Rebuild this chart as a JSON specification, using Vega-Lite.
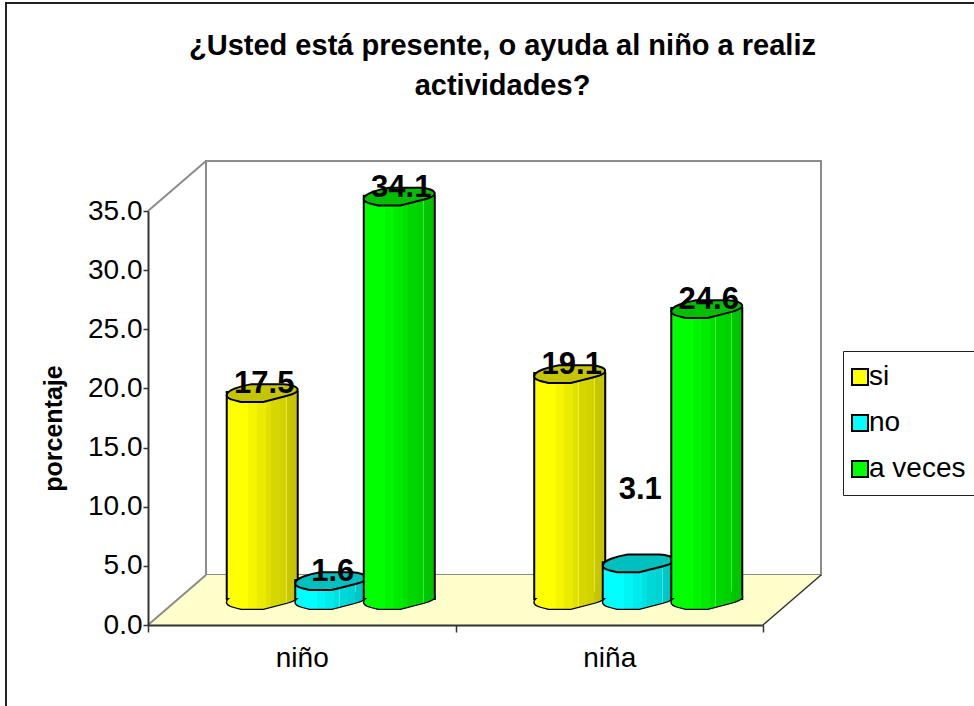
{
  "$schema": "https://vega.github.io/schema/vega-lite/v6.json",
  "autosize": {"type": "none"},
  "width": 615,
  "height": 414,
  "padding": {"left": 148, "top": 211, "right": 211, "bottom": 81},
  "background": "white",
  "view": {"stroke": null},
  "config": {"font": "Liberation Sans", "view": {"stroke": null}},
  "title": {
    "text": ["¿Usted está presente, o ayuda al niño a realiz", "actividades?"],
    "font": "Liberation Sans", "fontSize": 29, "fontWeight": "bold", "color": "black",
    "anchor": "middle", "frame": "group", "dx": 47, "offset": -99, "lineHeight": 40
  },
  "datasets": {
    "respuestas": [
      {"sexo": "niño", "respuesta": "si", "valor": 17.5},
      {"sexo": "niño", "respuesta": "no", "valor": 1.6},
      {"sexo": "niño", "respuesta": "a veces", "valor": 34.1},
      {"sexo": "niña", "respuesta": "si", "valor": 19.1},
      {"sexo": "niña", "respuesta": "no", "valor": 3.1},
      {"sexo": "niña", "respuesta": "a veces", "valor": 24.6}
    ],
    "suelo": [
      {"x": 0, "y": 0, "y2": 0},
      {"x": 0.1886, "y": 0, "y2": 4.23},
      {"x": 2, "y": 0, "y2": 4.23},
      {"x": 2.1886, "y": 4.23, "y2": 4.23}
    ],
    "aristas": [
      {"arista": "arriba", "x": 0, "y": 35},
      {"arista": "arriba", "x": 0.1886, "y": 39.23},
      {"arista": "abajo", "x": 0, "y": 0},
      {"arista": "abajo", "x": 0.1886, "y": 4.23}
    ],
    "paneles": [
      {"panel": "marco", "x": -0.4618, "x2": 3, "y": 52.58, "y2": -20},
      {"panel": "fondo", "x": 0.1886, "x2": 2.1886, "y": 39.23, "y2": 4.23}
    ],
    "borde": [
      {"x": 2, "y": 0},
      {"x": 2.1886, "y": 4.23}
    ]
  },
  "layer": [
    {
      "layer": [
        {
          "data": {"name": "paneles"},
          "transform": [{"filter": "datum.panel === 'marco'"}],
          "mark": {"type": "rect", "fill": "white", "stroke": "#222222", "strokeWidth": 2, "clip": false},
          "encoding": {
            "x": {"field": "x", "type": "quantitative", "scale": {"domain": [0, 2], "nice": false, "zero": false}, "axis": null},
            "x2": {"field": "x2"},
            "y": {
              "field": "y", "type": "quantitative",
              "scale": {"domain": [0, 35], "nice": false},
              "axis": {
                "values": [0, 5, 10, 15, 20, 25, 30, 35], "format": ".1f", "grid": false,
                "title": "porcentaje", "titleFont": "Liberation Sans", "titleFontSize": 25, "titleFontWeight": "bold",
                "titleColor": "black", "titleX": -95, "titleY": 217, "titleAlign": "center", "titleBaseline": "middle", "titleAngle": -90,
                "labelFont": "Liberation Sans", "labelFontSize": 28, "labelColor": "black", "labelPadding": 1,
                "tickSize": 5, "tickColor": "#333333", "domainColor": "#333333", "domainWidth": 2, "tickWidth": 1.5, "zindex": 1
              }
            },
            "y2": {"field": "y2"}
          }
        },
        {
          "data": {"name": "paneles"},
          "transform": [{"filter": "datum.panel === 'fondo'"}],
          "mark": {"type": "rect", "fill": "white", "stroke": "#8C8C8C", "strokeWidth": 2},
          "encoding": {
            "x": {"field": "x", "type": "quantitative", "axis": null},
            "x2": {"field": "x2"},
            "y": {"field": "y", "type": "quantitative"},
            "y2": {"field": "y2"}
          }
        },
        {
          "data": {"name": "suelo"},
          "mark": {"type": "area", "fill": "#FFFFCC"},
          "encoding": {
            "x": {"field": "x", "type": "quantitative", "axis": null},
            "y": {"field": "y", "type": "quantitative"},
            "y2": {"field": "y2"}
          }
        },
        {
          "data": {"name": "aristas"},
          "mark": {"type": "line", "color": "#8C8C8C", "strokeWidth": 2},
          "encoding": {
            "x": {"field": "x", "type": "quantitative", "axis": null},
            "y": {"field": "y", "type": "quantitative"},
            "detail": {"field": "arista"}
          }
        },
        {
          "data": {"name": "borde"},
          "mark": {"type": "line", "color": "#333333", "strokeWidth": 1.5},
          "encoding": {
            "x": {"field": "x", "type": "quantitative", "axis": null},
            "y": {"field": "y", "type": "quantitative"}
          }
        }
      ]
    },
    {
      "data": {"name": "respuestas"},
      "encoding": {
        "x": {
          "field": "sexo", "type": "nominal",
          "scale": {"domain": ["niño", "niña"], "paddingInner": 0, "paddingOuter": 0},
          "axis": {
            "title": null, "labelAngle": 0, "tickBand": "extent", "grid": false,
            "labelFont": "Liberation Sans", "labelFontSize": 28, "labelColor": "black", "labelPadding": 12,
            "tickSize": 7, "tickColor": "#333333", "tickWidth": 1.5, "domainColor": "#333333", "domainWidth": 2, "zindex": 1
          }
        },
        "xOffset": {
          "field": "respuesta", "type": "nominal",
          "scale": {"domain": ["si", "no", "a veces"], "range": [29, 336.5], "paddingInner": 0, "paddingOuter": 0.744}
        },
        "y": {"field": "valor", "type": "quantitative"}
      },
      "layer": [
        {
          "transform": [{"filter": "datum.respuesta === 'si'"}],
          "layer": [
            {
              "mark": {"type": "point", "filled": true, "opacity": 1, "size": 5041, "stroke": "black", "strokeWidth": 2, "yOffset": -25,
                "shape": "M-1,.06 C-1,-.08 -.6,-.2 -.3,-.25 L.6,-.25 C.8,-.25 1,-.17 1,-.09 C1,-.02 .85,.04 .7,.08 L.03,.25 L-.6,.25 L-.8,.2 C-.92,.17 -1,.12 -1,.06Z"},
              "encoding": {
                "y": {"datum": 0, "type": "quantitative"},
                "color": {
                  "field": "respuesta", "type": "nominal",
                  "scale": {"domain": ["si", "no", "a veces"], "range": ["#FFFF00", "#00FFFF", "#00FF00"]},
                  "legend": {
                    "title": null, "orient": "none", "legendX": 695, "legendY": 140,
                    "symbolType": "square", "symbolSize": 256, "symbolStrokeColor": "black", "symbolStrokeWidth": 2, "symbolOffset": -9,
                    "labelFont": "Liberation Sans", "labelFontSize": 28, "labelColor": "black", "labelOffset": -5, "labelLimit": 300,
                    "rowPadding": 18, "padding": 12, "strokeColor": "#222222", "fillColor": "white"
                  }
                }
              }
            },
            {
              "mark": {"type": "bar", "width": 71, "stroke": "black", "strokeWidth": 2, "yOffset": -26, "y2Offset": -28,
                "fill": {"x1": 0, "x2": 1, "y1": 0, "y2": 0, "gradient": "linear", "stops": [
                  {"offset": 0, "color": "#FFFF00"}, {"offset": 0.3, "color": "#FFFF00"}, {"offset": 0.3, "color": "#F5F500"}, {"offset": 0.42, "color": "#F5F500"},
                  {"offset": 0.42, "color": "#EBEB00"}, {"offset": 0.55, "color": "#EBEB00"}, {"offset": 0.55, "color": "#E1E100"}, {"offset": 0.62, "color": "#E1E100"},
                  {"offset": 0.62, "color": "#EEEE40"}, {"offset": 0.63, "color": "#EEEE40"}, {"offset": 0.63, "color": "#D7D700"}, {"offset": 0.75, "color": "#D7D700"},
                  {"offset": 0.75, "color": "#D2D200"}, {"offset": 0.84, "color": "#D2D200"}, {"offset": 0.84, "color": "#E6E640"}, {"offset": 0.85, "color": "#E6E640"},
                  {"offset": 0.85, "color": "#C8C800"}, {"offset": 1, "color": "#C3C300"}
                ]}
              }
            },
            {
              "mark": {"type": "point", "filled": true, "opacity": 1, "size": 4900, "strokeWidth": 0, "yOffset": -25,
                "shape": "M-1,.06 C-1,-.08 -.6,-.2 -.3,-.25 L.6,-.25 C.8,-.25 1,-.17 1,-.09 C1,-.02 .85,.04 .7,.08 L.03,.25 L-.6,.25 L-.8,.2 C-.92,.17 -1,.12 -1,.06Z",
                "fill": {"x1": 0, "x2": 1, "y1": 0, "y2": 0, "gradient": "linear", "stops": [
                  {"offset": 0, "color": "#FFFF00"}, {"offset": 0.3, "color": "#FFFF00"}, {"offset": 0.3, "color": "#F5F500"}, {"offset": 0.42, "color": "#F5F500"},
                  {"offset": 0.42, "color": "#EBEB00"}, {"offset": 0.55, "color": "#EBEB00"}, {"offset": 0.55, "color": "#E1E100"}, {"offset": 0.62, "color": "#E1E100"},
                  {"offset": 0.62, "color": "#EEEE40"}, {"offset": 0.63, "color": "#EEEE40"}, {"offset": 0.63, "color": "#D7D700"}, {"offset": 0.75, "color": "#D7D700"},
                  {"offset": 0.75, "color": "#D2D200"}, {"offset": 0.84, "color": "#D2D200"}, {"offset": 0.84, "color": "#E6E640"}, {"offset": 0.85, "color": "#E6E640"},
                  {"offset": 0.85, "color": "#C8C800"}, {"offset": 1, "color": "#C3C300"}
                ]}
              },
              "encoding": {"y": {"datum": 0, "type": "quantitative"}}
            },
            {
              "mark": {"type": "point", "filled": true, "opacity": 1, "size": 5041, "fill": "#C4C400", "stroke": "black", "strokeWidth": 2, "yOffset": -25,
                "shape": "M-1,.06 C-1,-.08 -.6,-.2 -.3,-.25 L.6,-.25 C.8,-.25 1,-.17 1,-.09 C1,-.02 .85,.04 .7,.08 L.03,.25 L-.6,.25 L-.8,.2 C-.92,.17 -1,.12 -1,.06Z"}
            }
          ]
        },
        {
          "transform": [{"filter": "datum.respuesta === 'no'"}],
          "layer": [
            {
              "mark": {"type": "point", "filled": true, "opacity": 1, "size": 5041, "stroke": "black", "strokeWidth": 2, "yOffset": -25,
                "shape": "M-1,.06 C-1,-.08 -.6,-.2 -.3,-.25 L.6,-.25 C.8,-.25 1,-.17 1,-.09 C1,-.02 .85,.04 .7,.08 L.03,.25 L-.6,.25 L-.8,.2 C-.92,.17 -1,.12 -1,.06Z"},
              "encoding": {
                "y": {"datum": 0, "type": "quantitative"},
                "color": {"field": "respuesta", "type": "nominal"}
              }
            },
            {
              "mark": {"type": "bar", "width": 71, "stroke": "black", "strokeWidth": 2, "yOffset": -26, "y2Offset": -28,
                "fill": {"x1": 0, "x2": 1, "y1": 0, "y2": 0, "gradient": "linear", "stops": [
                  {"offset": 0, "color": "#00FFFF"}, {"offset": 0.3, "color": "#00FFFF"}, {"offset": 0.3, "color": "#00F5F5"}, {"offset": 0.42, "color": "#00F5F5"},
                  {"offset": 0.42, "color": "#00EBEB"}, {"offset": 0.55, "color": "#00EBEB"}, {"offset": 0.55, "color": "#00E1E1"}, {"offset": 0.62, "color": "#00E1E1"},
                  {"offset": 0.62, "color": "#40EEEE"}, {"offset": 0.63, "color": "#40EEEE"}, {"offset": 0.63, "color": "#00D7D7"}, {"offset": 0.75, "color": "#00D7D7"},
                  {"offset": 0.75, "color": "#00D2D2"}, {"offset": 0.84, "color": "#00D2D2"}, {"offset": 0.84, "color": "#40E6E6"}, {"offset": 0.85, "color": "#40E6E6"},
                  {"offset": 0.85, "color": "#00C8C8"}, {"offset": 1, "color": "#00C3C3"}
                ]}
              }
            },
            {
              "mark": {"type": "point", "filled": true, "opacity": 1, "size": 4900, "strokeWidth": 0, "yOffset": -25,
                "shape": "M-1,.06 C-1,-.08 -.6,-.2 -.3,-.25 L.6,-.25 C.8,-.25 1,-.17 1,-.09 C1,-.02 .85,.04 .7,.08 L.03,.25 L-.6,.25 L-.8,.2 C-.92,.17 -1,.12 -1,.06Z",
                "fill": {"x1": 0, "x2": 1, "y1": 0, "y2": 0, "gradient": "linear", "stops": [
                  {"offset": 0, "color": "#00FFFF"}, {"offset": 0.3, "color": "#00FFFF"}, {"offset": 0.3, "color": "#00F5F5"}, {"offset": 0.42, "color": "#00F5F5"},
                  {"offset": 0.42, "color": "#00EBEB"}, {"offset": 0.55, "color": "#00EBEB"}, {"offset": 0.55, "color": "#00E1E1"}, {"offset": 0.62, "color": "#00E1E1"},
                  {"offset": 0.62, "color": "#40EEEE"}, {"offset": 0.63, "color": "#40EEEE"}, {"offset": 0.63, "color": "#00D7D7"}, {"offset": 0.75, "color": "#00D7D7"},
                  {"offset": 0.75, "color": "#00D2D2"}, {"offset": 0.84, "color": "#00D2D2"}, {"offset": 0.84, "color": "#40E6E6"}, {"offset": 0.85, "color": "#40E6E6"},
                  {"offset": 0.85, "color": "#00C8C8"}, {"offset": 1, "color": "#00C3C3"}
                ]}
              },
              "encoding": {"y": {"datum": 0, "type": "quantitative"}}
            },
            {
              "mark": {"type": "point", "filled": true, "opacity": 1, "size": 5041, "fill": "#00BFBF", "stroke": "black", "strokeWidth": 2, "yOffset": -25,
                "shape": "M-1,.06 C-1,-.08 -.6,-.2 -.3,-.25 L.6,-.25 C.8,-.25 1,-.17 1,-.09 C1,-.02 .85,.04 .7,.08 L.03,.25 L-.6,.25 L-.8,.2 C-.92,.17 -1,.12 -1,.06Z"}
            }
          ]
        },
        {
          "transform": [{"filter": "datum.respuesta === 'a veces'"}],
          "layer": [
            {
              "mark": {"type": "point", "filled": true, "opacity": 1, "size": 5041, "stroke": "black", "strokeWidth": 2, "yOffset": -25,
                "shape": "M-1,.06 C-1,-.08 -.6,-.2 -.3,-.25 L.6,-.25 C.8,-.25 1,-.17 1,-.09 C1,-.02 .85,.04 .7,.08 L.03,.25 L-.6,.25 L-.8,.2 C-.92,.17 -1,.12 -1,.06Z"},
              "encoding": {
                "y": {"datum": 0, "type": "quantitative"},
                "color": {"field": "respuesta", "type": "nominal"}
              }
            },
            {
              "mark": {"type": "bar", "width": 71, "stroke": "black", "strokeWidth": 2, "yOffset": -26, "y2Offset": -28,
                "fill": {"x1": 0, "x2": 1, "y1": 0, "y2": 0, "gradient": "linear", "stops": [
                  {"offset": 0, "color": "#00FF00"}, {"offset": 0.3, "color": "#00FF00"}, {"offset": 0.3, "color": "#00F500"}, {"offset": 0.42, "color": "#00F500"},
                  {"offset": 0.42, "color": "#00EB00"}, {"offset": 0.55, "color": "#00EB00"}, {"offset": 0.55, "color": "#00E100"}, {"offset": 0.62, "color": "#00E100"},
                  {"offset": 0.62, "color": "#40EE40"}, {"offset": 0.63, "color": "#40EE40"}, {"offset": 0.63, "color": "#00D700"}, {"offset": 0.75, "color": "#00D700"},
                  {"offset": 0.75, "color": "#00D200"}, {"offset": 0.84, "color": "#00D200"}, {"offset": 0.84, "color": "#40E640"}, {"offset": 0.85, "color": "#40E640"},
                  {"offset": 0.85, "color": "#00C800"}, {"offset": 1, "color": "#00C300"}
                ]}
              }
            },
            {
              "mark": {"type": "point", "filled": true, "opacity": 1, "size": 4900, "strokeWidth": 0, "yOffset": -25,
                "shape": "M-1,.06 C-1,-.08 -.6,-.2 -.3,-.25 L.6,-.25 C.8,-.25 1,-.17 1,-.09 C1,-.02 .85,.04 .7,.08 L.03,.25 L-.6,.25 L-.8,.2 C-.92,.17 -1,.12 -1,.06Z",
                "fill": {"x1": 0, "x2": 1, "y1": 0, "y2": 0, "gradient": "linear", "stops": [
                  {"offset": 0, "color": "#00FF00"}, {"offset": 0.3, "color": "#00FF00"}, {"offset": 0.3, "color": "#00F500"}, {"offset": 0.42, "color": "#00F500"},
                  {"offset": 0.42, "color": "#00EB00"}, {"offset": 0.55, "color": "#00EB00"}, {"offset": 0.55, "color": "#00E100"}, {"offset": 0.62, "color": "#00E100"},
                  {"offset": 0.62, "color": "#40EE40"}, {"offset": 0.63, "color": "#40EE40"}, {"offset": 0.63, "color": "#00D700"}, {"offset": 0.75, "color": "#00D700"},
                  {"offset": 0.75, "color": "#00D200"}, {"offset": 0.84, "color": "#00D200"}, {"offset": 0.84, "color": "#40E640"}, {"offset": 0.85, "color": "#40E640"},
                  {"offset": 0.85, "color": "#00C800"}, {"offset": 1, "color": "#00C300"}
                ]}
              },
              "encoding": {"y": {"datum": 0, "type": "quantitative"}}
            },
            {
              "mark": {"type": "point", "filled": true, "opacity": 1, "size": 5041, "fill": "#00BF00", "stroke": "black", "strokeWidth": 2, "yOffset": -25,
                "shape": "M-1,.06 C-1,-.08 -.6,-.2 -.3,-.25 L.6,-.25 C.8,-.25 1,-.17 1,-.09 C1,-.02 .85,.04 .7,.08 L.03,.25 L-.6,.25 L-.8,.2 C-.92,.17 -1,.12 -1,.06Z"}
            }
          ]
        },
        {
          "transform": [{"filter": "datum.valor !== 3.1"}],
          "mark": {"type": "text", "font": "Liberation Sans", "fontSize": 31, "fontWeight": "bold", "color": "black", "baseline": "middle", "dx": 2, "dy": -34},
          "encoding": {"text": {"field": "valor", "type": "quantitative", "format": ".1f"}}
        },
        {
          "transform": [{"filter": "datum.valor === 3.1"}],
          "mark": {"type": "text", "font": "Liberation Sans", "fontSize": 31, "fontWeight": "bold", "color": "black", "baseline": "middle", "dx": 2, "dy": -98},
          "encoding": {"text": {"field": "valor", "type": "quantitative", "format": ".1f"}}
        }
      ]
    }
  ],
  "resolve": {"scale": {"x": "independent"}, "axis": {"x": "independent"}}
}
